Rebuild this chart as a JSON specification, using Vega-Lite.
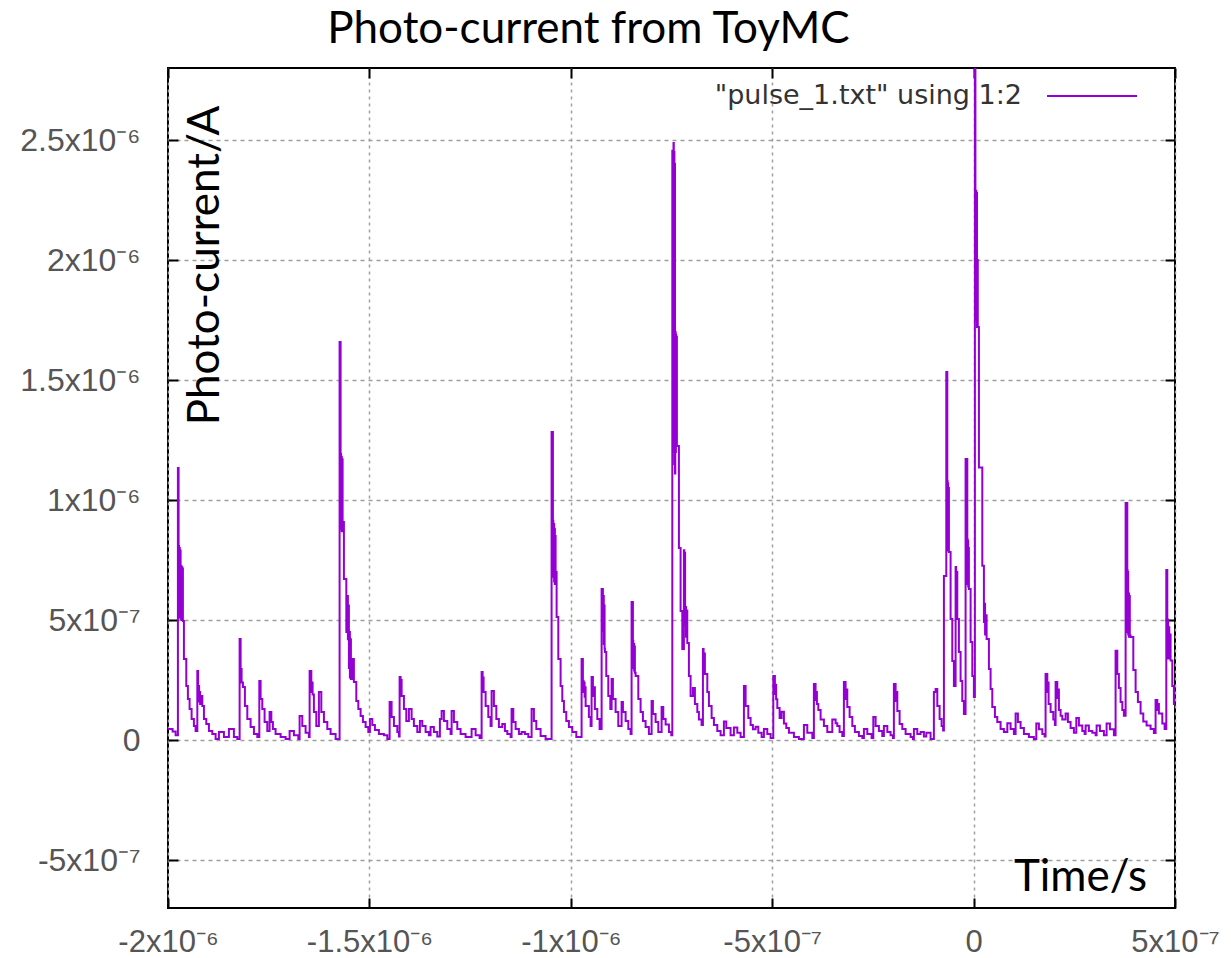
{
"$schema":"https://vega.github.io/schema/vega-lite/v6.json",
"width":1007,"height":840,
"autosize":{"type":"none"},
"padding":{"left":168,"top":68,"right":56,"bottom":50},
"background":"white",
"title":{"text":"Photo-current from ToyMC","font":"Lato","fontSize":44,"fontWeight":"normal","color":"black","anchor":"middle","dx":-83,"baseline":"alphabetic","offset":-37},
"data":{"values":[
{"t_ns":-2000,"I_nA":46},{"t_ns":-1988.6,"I_nA":35},{"t_ns":-1981.1,"I_nA":20},{"t_ns":-1975.4,"I_nA":1133},{"t_ns":-1973.7,"I_nA":808},{"t_ns":-1972.7,"I_nA":520},{"t_ns":-1971.7,"I_nA":800},{"t_ns":-1970.7,"I_nA":510},{"t_ns":-1969.7,"I_nA":790},{"t_ns":-1968.7,"I_nA":505},{"t_ns":-1967.7,"I_nA":725},{"t_ns":-1966.7,"I_nA":500},{"t_ns":-1965.7,"I_nA":720},{"t_ns":-1964.7,"I_nA":500},{"t_ns":-1963.7,"I_nA":715},{"t_ns":-1963.0,"I_nA":496},{"t_ns":-1960.5,"I_nA":337},{"t_ns":-1954.6,"I_nA":225},{"t_ns":-1950.6,"I_nA":171},{"t_ns":-1946.4,"I_nA":129},{"t_ns":-1941.4,"I_nA":88},{"t_ns":-1935.7,"I_nA":58},{"t_ns":-1931.5,"I_nA":38},
{"t_ns":-1927.2,"I_nA":287},{"t_ns":-1925.3,"I_nA":180},{"t_ns":-1924.0,"I_nA":225},{"t_ns":-1922.8,"I_nA":160},{"t_ns":-1921.5,"I_nA":200},{"t_ns":-1920.3,"I_nA":150},{"t_ns":-1919.1,"I_nA":183},{"t_ns":-1914.8,"I_nA":142},{"t_ns":-1910.8,"I_nA":88},{"t_ns":-1904.9,"I_nA":67},{"t_ns":-1898.4,"I_nA":38},{"t_ns":-1890.0,"I_nA":25},{"t_ns":-1881.8,"I_nA":4},{"t_ns":-1873.6,"I_nA":33},{"t_ns":-1861.2,"I_nA":12},{"t_ns":-1848.8,"I_nA":46},{"t_ns":-1836.4,"I_nA":12},{"t_ns":-1827.9,"I_nA":4},
{"t_ns":-1822.2,"I_nA":421},{"t_ns":-1819.7,"I_nA":296},{"t_ns":-1817.3,"I_nA":240},{"t_ns":-1814.0,"I_nA":221},{"t_ns":-1809.1,"I_nA":142},{"t_ns":-1803.1,"I_nA":88},{"t_ns":-1794.9,"I_nA":54},{"t_ns":-1786.7,"I_nA":25},{"t_ns":-1778.3,"I_nA":12},
{"t_ns":-1773.3,"I_nA":246},{"t_ns":-1770.1,"I_nA":171},{"t_ns":-1765.9,"I_nA":129},{"t_ns":-1760.2,"I_nA":75},{"t_ns":-1753.5,"I_nA":38},{"t_ns":-1747.8,"I_nA":117},{"t_ns":-1743.5,"I_nA":75},{"t_ns":-1739.6,"I_nA":46},{"t_ns":-1732.9,"I_nA":25},{"t_ns":-1720.4,"I_nA":12},{"t_ns":-1708.0,"I_nA":4},{"t_ns":-1698.1,"I_nA":38},{"t_ns":-1687.4,"I_nA":20},{"t_ns":-1676.5,"I_nA":4},{"t_ns":-1673.3,"I_nA":100},{"t_ns":-1666.6,"I_nA":58},{"t_ns":-1658.4,"I_nA":30},{"t_ns":-1650.2,"I_nA":12},
{"t_ns":-1648.4,"I_nA":287},{"t_ns":-1644.2,"I_nA":200},{"t_ns":-1642.2,"I_nA":240},{"t_ns":-1641.0,"I_nA":190},{"t_ns":-1637.8,"I_nA":117},{"t_ns":-1631.8,"I_nA":58},{"t_ns":-1625.4,"I_nA":200},{"t_ns":-1619.4,"I_nA":117},{"t_ns":-1612.9,"I_nA":75},{"t_ns":-1604.5,"I_nA":46},{"t_ns":-1596.3,"I_nA":25},{"t_ns":-1583.9,"I_nA":4},
{"t_ns":-1574.0,"I_nA":1658},{"t_ns":-1571.5,"I_nA":1192},{"t_ns":-1570.5,"I_nA":880},{"t_ns":-1569.5,"I_nA":1180},{"t_ns":-1568.5,"I_nA":870},{"t_ns":-1567.5,"I_nA":1170},{"t_ns":-1566.5,"I_nA":908},{"t_ns":-1563.3,"I_nA":671},{"t_ns":-1557.3,"I_nA":450},{"t_ns":-1554.9,"I_nA":600},{"t_ns":-1553.4,"I_nA":420},{"t_ns":-1552.1,"I_nA":560},{"t_ns":-1550.9,"I_nA":300},{"t_ns":-1549.6,"I_nA":450},{"t_ns":-1548.4,"I_nA":260},{"t_ns":-1547.2,"I_nA":420},{"t_ns":-1545.9,"I_nA":254},{"t_ns":-1542.4,"I_nA":337},{"t_ns":-1538.5,"I_nA":242},{"t_ns":-1532.5,"I_nA":163},{"t_ns":-1527.5,"I_nA":129},{"t_ns":-1521.8,"I_nA":100},{"t_ns":-1516.1,"I_nA":75},{"t_ns":-1509.4,"I_nA":54},{"t_ns":-1502.7,"I_nA":33},
{"t_ns":-1498.7,"I_nA":88},{"t_ns":-1492.8,"I_nA":62},{"t_ns":-1486.3,"I_nA":42},{"t_ns":-1476.4,"I_nA":25},{"t_ns":-1464.0,"I_nA":20},{"t_ns":-1455.5,"I_nA":4},{"t_ns":-1449.8,"I_nA":158},{"t_ns":-1444.9,"I_nA":96},{"t_ns":-1439.1,"I_nA":58},{"t_ns":-1430.7,"I_nA":33},{"t_ns":-1426.7,"I_nA":15},
{"t_ns":-1425.0,"I_nA":262},{"t_ns":-1422.5,"I_nA":200},{"t_ns":-1421.3,"I_nA":250},{"t_ns":-1420.0,"I_nA":183},{"t_ns":-1414.3,"I_nA":129},{"t_ns":-1408.4,"I_nA":79},{"t_ns":-1401.9,"I_nA":129},{"t_ns":-1395.2,"I_nA":88},{"t_ns":-1389.5,"I_nA":58},{"t_ns":-1381.1,"I_nA":33},{"t_ns":-1374.6,"I_nA":79},{"t_ns":-1368.7,"I_nA":58},{"t_ns":-1360.5,"I_nA":33},{"t_ns":-1352.3,"I_nA":20},{"t_ns":-1348.1,"I_nA":54},{"t_ns":-1339.9,"I_nA":33},{"t_ns":-1331.4,"I_nA":15},
{"t_ns":-1325.0,"I_nA":88},{"t_ns":-1320.7,"I_nA":121},{"t_ns":-1315.0,"I_nA":79},{"t_ns":-1306.6,"I_nA":46},{"t_ns":-1298.4,"I_nA":25},{"t_ns":-1295.9,"I_nA":121},{"t_ns":-1290.2,"I_nA":75},{"t_ns":-1281.8,"I_nA":46},{"t_ns":-1273.6,"I_nA":25},{"t_ns":-1261.2,"I_nA":12},{"t_ns":-1246.3,"I_nA":46},{"t_ns":-1236.3,"I_nA":20},{"t_ns":-1226.4,"I_nA":8},
{"t_ns":-1221.4,"I_nA":283},{"t_ns":-1218.9,"I_nA":220},{"t_ns":-1217.7,"I_nA":260},{"t_ns":-1216.5,"I_nA":200},{"t_ns":-1211.5,"I_nA":142},{"t_ns":-1204.8,"I_nA":96},{"t_ns":-1199.1,"I_nA":58},{"t_ns":-1196.6,"I_nA":204},{"t_ns":-1190.9,"I_nA":142},{"t_ns":-1184.9,"I_nA":88},{"t_ns":-1178.5,"I_nA":54},{"t_ns":-1170.1,"I_nA":67},{"t_ns":-1163.6,"I_nA":38},{"t_ns":-1157.6,"I_nA":25},{"t_ns":-1149.4,"I_nA":12},
{"t_ns":-1147.0,"I_nA":129},{"t_ns":-1142.7,"I_nA":75},{"t_ns":-1137.0,"I_nA":46},{"t_ns":-1128.8,"I_nA":25},{"t_ns":-1122.1,"I_nA":33},{"t_ns":-1113.9,"I_nA":25},{"t_ns":-1105.5,"I_nA":12},{"t_ns":-1097.3,"I_nA":129},{"t_ns":-1091.6,"I_nA":79},{"t_ns":-1085.6,"I_nA":46},{"t_ns":-1075.0,"I_nA":17},{"t_ns":-1062.6,"I_nA":4},
{"t_ns":-1047.7,"I_nA":1283},{"t_ns":-1044.4,"I_nA":912},{"t_ns":-1043.4,"I_nA":680},{"t_ns":-1042.4,"I_nA":900},{"t_ns":-1041.4,"I_nA":660},{"t_ns":-1040.5,"I_nA":880},{"t_ns":-1039.5,"I_nA":650},{"t_ns":-1038.5,"I_nA":850},{"t_ns":-1037.7,"I_nA":700},{"t_ns":-1035.2,"I_nA":512},{"t_ns":-1031.0,"I_nA":337},{"t_ns":-1025.3,"I_nA":225},{"t_ns":-1021.1,"I_nA":163},{"t_ns":-1017.1,"I_nA":117},{"t_ns":-1011.2,"I_nA":79},{"t_ns":-1004.7,"I_nA":54},{"t_ns":-996.3,"I_nA":33},{"t_ns":-986.3,"I_nA":12},
{"t_ns":-973.2,"I_nA":337},{"t_ns":-970.0,"I_nA":246},{"t_ns":-968.2,"I_nA":200},{"t_ns":-967.0,"I_nA":240},{"t_ns":-965.7,"I_nA":180},{"t_ns":-964.5,"I_nA":220},{"t_ns":-963.2,"I_nA":142},{"t_ns":-955.1,"I_nA":96},{"t_ns":-950.8,"I_nA":58},{"t_ns":-948.4,"I_nA":262},{"t_ns":-945.1,"I_nA":183},{"t_ns":-943.4,"I_nA":220},{"t_ns":-940.2,"I_nA":129},{"t_ns":-934.2,"I_nA":88},{"t_ns":-928.5,"I_nA":46},
{"t_ns":-923.5,"I_nA":629},{"t_ns":-920.3,"I_nA":454},{"t_ns":-919.1,"I_nA":600},{"t_ns":-918.1,"I_nA":400},{"t_ns":-917.1,"I_nA":560},{"t_ns":-916.1,"I_nA":380},{"t_ns":-915.3,"I_nA":367},{"t_ns":-911.9,"I_nA":267},{"t_ns":-906.9,"I_nA":183},{"t_ns":-901.9,"I_nA":129},{"t_ns":-898.7,"I_nA":254},{"t_ns":-895.5,"I_nA":171},{"t_ns":-888.8,"I_nA":117},{"t_ns":-882.1,"I_nA":58},{"t_ns":-873.9,"I_nA":158},{"t_ns":-870.6,"I_nA":117},{"t_ns":-863.9,"I_nA":79},{"t_ns":-857.2,"I_nA":46},{"t_ns":-851.5,"I_nA":25},
{"t_ns":-849.1,"I_nA":575},{"t_ns":-845.8,"I_nA":412},{"t_ns":-844.8,"I_nA":300},{"t_ns":-843.8,"I_nA":400},{"t_ns":-842.8,"I_nA":290},{"t_ns":-841.9,"I_nA":390},{"t_ns":-840.9,"I_nA":280},{"t_ns":-839.1,"I_nA":267},{"t_ns":-832.4,"I_nA":171},{"t_ns":-826.7,"I_nA":117},{"t_ns":-821.0,"I_nA":79},{"t_ns":-814.3,"I_nA":54},{"t_ns":-806.1,"I_nA":25},{"t_ns":-799.4,"I_nA":163},{"t_ns":-796.2,"I_nA":108},{"t_ns":-789.5,"I_nA":75},{"t_ns":-782.8,"I_nA":33},{"t_ns":-774.6,"I_nA":138},{"t_ns":-770.4,"I_nA":88},{"t_ns":-764.6,"I_nA":65},{"t_ns":-756.4,"I_nA":33},{"t_ns":-750.5,"I_nA":20},
{"t_ns":-748.0,"I_nA":2455},{"t_ns":-747.3,"I_nA":1300},{"t_ns":-746.5,"I_nA":2440},{"t_ns":-745.8,"I_nA":1250},{"t_ns":-745.0,"I_nA":2488},{"t_ns":-744.3,"I_nA":1200},{"t_ns":-743.5,"I_nA":2450},{"t_ns":-742.8,"I_nA":1150},{"t_ns":-742.0,"I_nA":2400},{"t_ns":-741.3,"I_nA":1110},{"t_ns":-740.6,"I_nA":1700},{"t_ns":-739.8,"I_nA":1200},{"t_ns":-739.1,"I_nA":1690},{"t_ns":-738.3,"I_nA":1250},{"t_ns":-737.3,"I_nA":1680},{"t_ns":-736.6,"I_nA":1225},{"t_ns":-731.6,"I_nA":800},{"t_ns":-727.4,"I_nA":537},{"t_ns":-723.2,"I_nA":379},{"t_ns":-719.2,"I_nA":791},{"t_ns":-718.2,"I_nA":500},{"t_ns":-717.2,"I_nA":780},{"t_ns":-716.2,"I_nA":480},{"t_ns":-715.0,"I_nA":554},{"t_ns":-714.0,"I_nA":430},{"t_ns":-712.5,"I_nA":540},{"t_ns":-710.8,"I_nA":404},{"t_ns":-706.8,"I_nA":267},{"t_ns":-702.6,"I_nA":183},{"t_ns":-696.9,"I_nA":217},{"t_ns":-691.9,"I_nA":150},{"t_ns":-685.9,"I_nA":117},{"t_ns":-682.0,"I_nA":85},{"t_ns":-675.3,"I_nA":63},
{"t_ns":-672.0,"I_nA":379},{"t_ns":-670.3,"I_nA":300},{"t_ns":-669.1,"I_nA":360},{"t_ns":-667.1,"I_nA":275},{"t_ns":-661.1,"I_nA":200},{"t_ns":-657.1,"I_nA":142},{"t_ns":-650.4,"I_nA":92},{"t_ns":-644.7,"I_nA":63},{"t_ns":-636.3,"I_nA":38},{"t_ns":-628.1,"I_nA":20},{"t_ns":-619.9,"I_nA":77},{"t_ns":-614.0,"I_nA":50},{"t_ns":-603.3,"I_nA":20},{"t_ns":-595.1,"I_nA":52},{"t_ns":-586.6,"I_nA":30},{"t_ns":-578.4,"I_nA":12},
{"t_ns":-570.2,"I_nA":225},{"t_ns":-566.0,"I_nA":142},{"t_ns":-559.3,"I_nA":92},{"t_ns":-553.6,"I_nA":63},{"t_ns":-547.9,"I_nA":45},{"t_ns":-541.2,"I_nA":55},{"t_ns":-534.5,"I_nA":30},{"t_ns":-526.3,"I_nA":12},{"t_ns":-520.6,"I_nA":46},{"t_ns":-512.2,"I_nA":25},{"t_ns":-504.0,"I_nA":8},
{"t_ns":-497.3,"I_nA":267},{"t_ns":-493.3,"I_nA":192},{"t_ns":-491.6,"I_nA":230},{"t_ns":-490.3,"I_nA":170},{"t_ns":-487.3,"I_nA":133},{"t_ns":-481.6,"I_nA":92},{"t_ns":-476.7,"I_nA":118},{"t_ns":-470.9,"I_nA":69},{"t_ns":-465.0,"I_nA":50},{"t_ns":-458.5,"I_nA":30},{"t_ns":-446.1,"I_nA":12},{"t_ns":-433.7,"I_nA":4},{"t_ns":-421.3,"I_nA":63},{"t_ns":-412.9,"I_nA":30},{"t_ns":-400.4,"I_nA":8},
{"t_ns":-396.5,"I_nA":233},{"t_ns":-392.3,"I_nA":167},{"t_ns":-390.5,"I_nA":200},{"t_ns":-389.0,"I_nA":150},{"t_ns":-385.5,"I_nA":125},{"t_ns":-379.8,"I_nA":85},{"t_ns":-371.6,"I_nA":58},{"t_ns":-363.2,"I_nA":33},{"t_ns":-350.8,"I_nA":85},{"t_ns":-342.6,"I_nA":70},{"t_ns":-338.4,"I_nA":58},{"t_ns":-332.7,"I_nA":33},{"t_ns":-326.0,"I_nA":17},
{"t_ns":-322.0,"I_nA":242},{"t_ns":-317.8,"I_nA":171},{"t_ns":-316.0,"I_nA":210},{"t_ns":-313.6,"I_nA":138},{"t_ns":-307.8,"I_nA":96},{"t_ns":-301.1,"I_nA":58},{"t_ns":-294.7,"I_nA":33},{"t_ns":-284.8,"I_nA":17},{"t_ns":-276.3,"I_nA":8},{"t_ns":-272.3,"I_nA":46},{"t_ns":-263.9,"I_nA":25},{"t_ns":-253.2,"I_nA":8},{"t_ns":-249.0,"I_nA":96},{"t_ns":-243.3,"I_nA":58},{"t_ns":-235.1,"I_nA":38},{"t_ns":-226.7,"I_nA":17},{"t_ns":-222.7,"I_nA":58},{"t_ns":-214.2,"I_nA":33},{"t_ns":-206.1,"I_nA":20},{"t_ns":-200.3,"I_nA":8},
{"t_ns":-197.9,"I_nA":233},{"t_ns":-193.6,"I_nA":163},{"t_ns":-191.7,"I_nA":200},{"t_ns":-189.4,"I_nA":121},{"t_ns":-183.7,"I_nA":67},{"t_ns":-177.0,"I_nA":46},{"t_ns":-168.8,"I_nA":25},{"t_ns":-156.4,"I_nA":12},{"t_ns":-150.7,"I_nA":4},{"t_ns":-148.2,"I_nA":46},{"t_ns":-139.8,"I_nA":25},{"t_ns":-131.6,"I_nA":33},{"t_ns":-123.4,"I_nA":15},{"t_ns":-117.4,"I_nA":30},{"t_ns":-106.8,"I_nA":4},
{"t_ns":-98.6,"I_nA":200},{"t_ns":-94.3,"I_nA":212},{"t_ns":-90.1,"I_nA":142},{"t_ns":-84.4,"I_nA":88},{"t_ns":-79.4,"I_nA":58},{"t_ns":-75.7,"I_nA":40},{"t_ns":-73.7,"I_nA":683},{"t_ns":-67.8,"I_nA":1533},{"t_ns":-65.3,"I_nA":1079},{"t_ns":-64.5,"I_nA":800},{"t_ns":-63.8,"I_nA":1070},{"t_ns":-63.1,"I_nA":790},{"t_ns":-62.3,"I_nA":1050},{"t_ns":-61.3,"I_nA":783},{"t_ns":-57.1,"I_nA":504},{"t_ns":-52.9,"I_nA":329},{"t_ns":-48.9,"I_nA":225},{"t_ns":-44.7,"I_nA":721},{"t_ns":-43.4,"I_nA":600},{"t_ns":-42.2,"I_nA":700},{"t_ns":-40.5,"I_nA":504},{"t_ns":-36.5,"I_nA":367},{"t_ns":-32.3,"I_nA":246},{"t_ns":-28.1,"I_nA":163},{"t_ns":-24.1,"I_nA":108},{"t_ns":-19.9,"I_nA":1171},{"t_ns":-15.6,"I_nA":837},{"t_ns":-14.9,"I_nA":650},{"t_ns":-14.2,"I_nA":830},{"t_ns":-13.4,"I_nA":640},{"t_ns":-12.4,"I_nA":800},{"t_ns":-11.7,"I_nA":629},{"t_ns":-7.4,"I_nA":408},{"t_ns":-3.2,"I_nA":267},{"t_ns":0.7,"I_nA":179},
{"t_ns":3.2,"I_nA":2850},{"t_ns":4.5,"I_nA":1900},{"t_ns":5.5,"I_nA":2289},{"t_ns":6.5,"I_nA":1750},{"t_ns":7.4,"I_nA":2280},{"t_ns":8.4,"I_nA":1721},{"t_ns":9.4,"I_nA":2000},{"t_ns":10.4,"I_nA":1721},{"t_ns":13.2,"I_nA":1135},{"t_ns":21.6,"I_nA":726},{"t_ns":25.6,"I_nA":492},{"t_ns":27.3,"I_nA":568},{"t_ns":28.5,"I_nA":440},{"t_ns":29.8,"I_nA":520},{"t_ns":32.3,"I_nA":421},{"t_ns":38.0,"I_nA":296},{"t_ns":42.2,"I_nA":212},{"t_ns":46.4,"I_nA":138},{"t_ns":52.9,"I_nA":96},{"t_ns":58.8,"I_nA":75},{"t_ns":67.0,"I_nA":46},{"t_ns":75.2,"I_nA":33},{"t_ns":83.7,"I_nA":70},{"t_ns":91.9,"I_nA":46},{"t_ns":100.0,"I_nA":25},
{"t_ns":104.3,"I_nA":110},{"t_ns":110.0,"I_nA":75},{"t_ns":116.7,"I_nA":50},{"t_ns":124.9,"I_nA":25},{"t_ns":137.3,"I_nA":12},{"t_ns":149.7,"I_nA":4},{"t_ns":155.7,"I_nA":69},{"t_ns":162.1,"I_nA":45},{"t_ns":170.6,"I_nA":25},{"t_ns":176.3,"I_nA":15},
{"t_ns":178.7,"I_nA":275},{"t_ns":183.0,"I_nA":200},{"t_ns":184.5,"I_nA":240},{"t_ns":186.2,"I_nA":150},{"t_ns":191.2,"I_nA":117},{"t_ns":197.9,"I_nA":85},{"t_ns":201.8,"I_nA":63},{"t_ns":203.6,"I_nA":242},{"t_ns":207.8,"I_nA":175},{"t_ns":209.3,"I_nA":210},{"t_ns":211.8,"I_nA":125},{"t_ns":216.0,"I_nA":101},{"t_ns":220.2,"I_nA":85},{"t_ns":228.4,"I_nA":110},{"t_ns":234.1,"I_nA":75},{"t_ns":240.8,"I_nA":50},{"t_ns":249.0,"I_nA":30},
{"t_ns":255.0,"I_nA":92},{"t_ns":261.4,"I_nA":60},{"t_ns":269.9,"I_nA":38},{"t_ns":275.6,"I_nA":25},{"t_ns":278.1,"I_nA":60},{"t_ns":286.2,"I_nA":38},{"t_ns":294.7,"I_nA":30},{"t_ns":302.9,"I_nA":20},{"t_ns":305.4,"I_nA":60},{"t_ns":313.6,"I_nA":38},{"t_ns":323.5,"I_nA":20},{"t_ns":330.2,"I_nA":69},{"t_ns":338.4,"I_nA":45},{"t_ns":348.3,"I_nA":20},
{"t_ns":352.5,"I_nA":372},{"t_ns":356.8,"I_nA":275},{"t_ns":360.7,"I_nA":217},{"t_ns":364.9,"I_nA":158},{"t_ns":369.2,"I_nA":125},{"t_ns":373.1,"I_nA":101},{"t_ns":377.4,"I_nA":987},{"t_ns":381.6,"I_nA":708},{"t_ns":382.3,"I_nA":450},{"t_ns":383.1,"I_nA":700},{"t_ns":383.8,"I_nA":440},{"t_ns":384.8,"I_nA":610},{"t_ns":385.8,"I_nA":430},{"t_ns":386.8,"I_nA":600},{"t_ns":387.8,"I_nA":435},{"t_ns":389.8,"I_nA":429},{"t_ns":396.5,"I_nA":292},{"t_ns":402.2,"I_nA":200},{"t_ns":407.9,"I_nA":158},{"t_ns":414.6,"I_nA":110},{"t_ns":421.3,"I_nA":77},{"t_ns":429.5,"I_nA":60},{"t_ns":439.4,"I_nA":46},{"t_ns":447.6,"I_nA":29},
{"t_ns":451.8,"I_nA":167},{"t_ns":456.1,"I_nA":125},{"t_ns":458.0,"I_nA":150},{"t_ns":460.0,"I_nA":110},{"t_ns":468.5,"I_nA":69},{"t_ns":474.2,"I_nA":46},{"t_ns":478.4,"I_nA":708},{"t_ns":480.9,"I_nA":504},{"t_ns":481.6,"I_nA":350},{"t_ns":482.4,"I_nA":500},{"t_ns":483.1,"I_nA":340},{"t_ns":484.1,"I_nA":470},{"t_ns":485.8,"I_nA":340},{"t_ns":486.6,"I_nA":440},{"t_ns":489.1,"I_nA":331},{"t_ns":493.3,"I_nA":225},{"t_ns":497.3,"I_nA":150},{"t_ns":500.0,"I_nA":150}
]},
"layer":[
{"mark":{"type":"line","interpolate":"step-after","strokeWidth":2,"clip":true},
 "encoding":{
  "x":{"field":"t_ns","type":"quantitative","scale":{"domain":[-2000,500],"nice":false,"zero":false},
   "axis":{"orient":"bottom","values":[-2000,-1500,-1000,-500,0,500],
    "labelExpr":"datum.value == 0 ? '0' : (datum.value < 0 ? '-' : '') + (abs(datum.value) >= 990 ? format(abs(datum.value)/1000, '.6~g') + 'x10⁻⁶' : format(abs(datum.value)/100, '.6~g') + 'x10⁻⁷')",
    "labelFont":"Liberation Sans","labelFontSize":31,"labelColor":"#555555","labelPadding":29,"labelFlush":false,"labelOverlap":false,
    "tickSize":-10,"tickColor":"black","tickWidth":2,"domain":false,
    "grid":true,"gridColor":"#a0a0a0","gridDash":[3,4],"gridWidth":1.5,
    "title":"Time/s","titleFont":"Lato","titleFontSize":44,"titleFontWeight":"normal","titleColor":"black","titleX":912,"titleY":-18,"titleAlign":"center","titleBaseline":"alphabetic"}},
  "y":{"field":"I_nA","type":"quantitative","scale":{"domain":[-700,2800],"nice":false,"zero":false},
   "axis":{"orient":"left","values":[-500,0,500,1000,1500,2000,2500],
    "labelExpr":"datum.value == 0 ? '0' : (datum.value < 0 ? '-' : '') + (abs(datum.value) >= 990 ? format(abs(datum.value)/1000, '.6~g') + 'x10⁻⁶' : format(abs(datum.value)/100, '.6~g') + 'x10⁻⁷')",
    "labelFont":"Liberation Sans","labelFontSize":32,"labelColor":"#555555","labelPadding":38,"labelFlush":false,"labelOverlap":false,
    "tickSize":-10,"tickColor":"black","tickWidth":2,"domain":false,
    "grid":true,"gridColor":"#a0a0a0","gridDash":[4,4],"gridWidth":1.5,
    "title":"Photo-current/A","titleFont":"Lato","titleFontSize":44,"titleFontWeight":"normal","titleColor":"black","titleX":37,"titleY":197,"titleAngle":270,"titleAlign":"center","titleBaseline":"middle"}},
  "color":{"datum":"\"pulse_1.txt\" using 1:2","type":"nominal","scale":{"range":["#9400d3"]},
   "legend":{"orient":"none","legendX":878,"legendY":-18,"title":null,"symbolType":"stroke","symbolSize":8100,"symbolStrokeWidth":2,"labelAlign":"right","labelOffset":-116,"labelLimit":0,"labelFont":"DejaVu Sans","labelFontSize":27,"labelColor":"#333333","padding":0}}
 }},
{"mark":{"type":"point","opacity":0},
 "encoding":{
  "x":{"field":"t_ns","type":"quantitative","axis":{"orient":"top","values":[-2000,-1500,-1000,-500,0,500],"labels":false,"tickSize":-10,"tickColor":"black","tickWidth":2,"domain":false,"grid":false,"title":null}},
  "y":{"field":"I_nA","type":"quantitative","axis":{"orient":"right","values":[-500,0,500,1000,1500,2000,2500],"labels":false,"tickSize":-10,"tickColor":"black","tickWidth":2,"domain":false,"grid":false,"title":null}}
 }}
],
"resolve":{"axis":{"x":"independent","y":"independent"}},
"config":{"view":{"stroke":"black","strokeWidth":2}}
}
